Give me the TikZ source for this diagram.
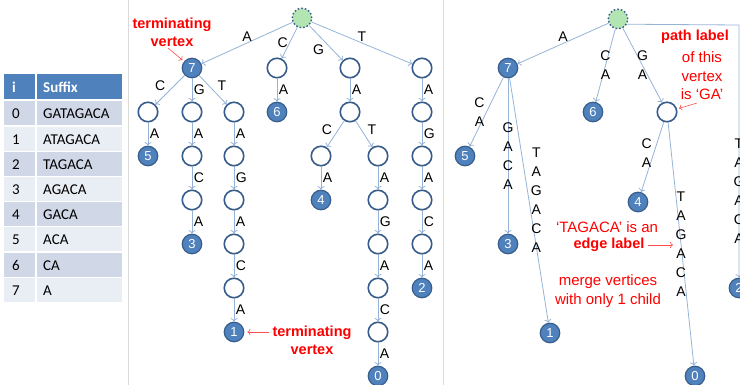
\documentclass[tikz,border=0pt]{standalone}
\usepackage{fontspec}
\setmainfont{Liberation Sans}
\newfontfamily\tablefont{Carlito}
\usetikzlibrary{arrows.meta}
\definecolor{cblue}{HTML}{4F81BD}
\definecolor{cdark}{HTML}{385D8A}
\definecolor{cedge}{HTML}{95B3D7}
\definecolor{cgreen}{HTML}{B3E5B3}
\definecolor{crowa}{HTML}{D0D8E8}
\definecolor{crowb}{HTML}{E9EDF4}
\definecolor{cred}{HTML}{FF0000}
\definecolor{cline}{HTML}{D9D9D9}
\tikzset{
  every picture/.style={x=1pt, y=-1pt},
  vtx/.style={circle, draw=cdark, line width=1.6pt, fill=white, minimum size=19.5pt, inner sep=0pt},
  leaf/.style={vtx, fill=cblue, line width=1.2pt, text=white, font=\fontsize{13}{13}\selectfont},
  rootvtx/.style={vtx, fill=cgreen, dotted, line width=1.4pt},
  edge/.style={draw=cedge, line width=0.8pt, -{To[length=3.5pt, width=7pt]}},
  lab/.style={font=\fontsize{14}{19}\selectfont, inner sep=1.5pt, align=center},
  note/.style={text=cred, font=\fontsize{15}{18.5}\selectfont, align=center},
  notebf/.style={note, font=\fontsize{14.5}{18}\selectfont\bfseries},
  pointer/.style={draw=cred!70, line width=0.6pt, -{To[length=3pt, width=6pt]}},
  cell/.style={anchor=west, font=\tablefont\fontsize{15}{15}\selectfont, inner sep=0pt},
}
\begin{document}
\begin{tikzpicture}
  \useasboundingbox (0,0) rectangle (740,385);
  % suffix table
  \fill[cblue] (4,74) rectangle (35,99);
  \fill[cblue] (37,74) rectangle (122,99);
  \node[cell, text=white, font=\tablefont\fontsize{15}{15}\selectfont\bfseries] (hi) at (12,87) {i};
  \node[cell, text=white, font=\tablefont\fontsize{15}{15}\selectfont\bfseries] (hs) at (43,87) {Suffix};
  \foreach \s/\c [count=\i from 0] in {GATAGACA/crowa, ATAGACA/crowb, TAGACA/crowa, AGACA/crowb,
      GACA/crowa, ACA/crowb, CA/crowa, A/crowb} {
    \pgfmathsetmacro\ytop{100.5+25.2*\i}
    \fill[\c] (4,\ytop+1) rectangle (35,\ytop+25);
    \fill[\c] (37,\ytop+1) rectangle (122,\ytop+25);
    \node[cell] (i\i) at (12,\ytop+13.5) {\i};
    \node[cell] (s\i) at (43,\ytop+13.5) {\s};
  }
  % separators
  \draw[cline, line width=1pt] (128,0) -- (128,385);
  \draw[cline, line width=1pt] (443,0) -- (443,385);
  % left: suffix trie
  \node[rootvtx] (lr) at (302,18) {};
  \node[leaf] (l7) at (192,68) {7};
  \node[vtx] (lc) at (277,68) {};
  \node[leaf] (l6) at (277,112) {6};
  \node[vtx] (lg) at (350,68) {};
  \node[vtx] (lga) at (350,112) {};
  \node[vtx] (lgac) at (321,156) {};
  \node[leaf] (l4) at (321,200) {4};
  \node[vtx] (lgat) at (378,156) {};
  \node[vtx] (lgata) at (378,200) {};
  \node[vtx] (lgatag) at (378,244) {};
  \node[vtx] (lgataga) at (378,288) {};
  \node[vtx] (lgatagac) at (378,332) {};
  \node[leaf] (l0) at (378,376) {0};
  \node[vtx] (lt) at (422,68) {};
  \node[vtx] (lta) at (422,112) {};
  \node[vtx] (ltag) at (422,156) {};
  \node[vtx] (ltaga) at (422,200) {};
  \node[vtx] (ltagac) at (422,244) {};
  \node[leaf] (l2) at (422,288) {2};
  \node[vtx] (lac) at (148,112) {};
  \node[leaf] (l5) at (148,156) {5};
  \node[vtx] (lag) at (192,112) {};
  \node[vtx] (laga) at (192,156) {};
  \node[vtx] (lagac) at (192,200) {};
  \node[leaf] (l3) at (192,244) {3};
  \node[vtx] (lat) at (234,112) {};
  \node[vtx] (lata) at (234,156) {};
  \node[vtx] (latag) at (234,200) {};
  \node[vtx] (lataga) at (234,244) {};
  \node[vtx] (latagac) at (234,288) {};
  \node[leaf] (l1) at (234,332) {1};
  \draw[edge] (lr) -- node[lab, above] {A} (l7);
  \draw[edge] (lr) -- node[lab, left] {C} (lc);
  \draw[edge] (lr) -- node[lab, below left] {G} (lg);
  \draw[edge] (lr) -- node[lab, above] {T} (lt);
  \draw[edge] (l7) -- node[lab, above left, pos=.6] {C} (lac);
  \draw[edge] (l7) -- node[lab, right] {G} (lag);
  \draw[edge] (l7) -- node[lab, above right, pos=.6] {T} (lat);
  \draw[edge] (lga) -- node[lab, above left, pos=.6] {C} (lgac);
  \draw[edge] (lga) -- node[lab, above right, pos=.6] {T} (lgat);
  \foreach \a/\b/\l in {lc/l6/A, lg/lga/A, lgac/l4/A, lgat/lgata/A, lgata/lgatag/G, lgatag/lgataga/A,
      lgataga/lgatagac/C, lgatagac/l0/A, lt/lta/A, lta/ltag/G, ltag/ltaga/A, ltaga/ltagac/C,
      ltagac/l2/A, lac/l5/A, lag/laga/A, laga/lagac/C, lagac/l3/A, lat/lata/A, lata/latag/G,
      latag/lataga/A, lataga/latagac/C, latagac/l1/A}
    \draw[edge] (\a) -- node[lab, right] {\l} (\b);
  % notes on the trie
  \node[notebf] (ntop) at (172,32) {terminating\\vertex};
  \coordinate (ntopp) at (168,48);
  \draw[pointer, shorten >=2pt] (ntopp) -- (l7);
  \node[notebf] (nbot) at (312,340) {terminating\\vertex};
  \draw[pointer, shorten >=3pt] (nbot.west |- l1) -- (l1);
  % right: suffix tree
  \node[rootvtx] (rr) at (618,19) {};
  \node[leaf] (r7) at (508,68) {7};
  \node[leaf] (r5) at (465,156) {5};
  \node[leaf] (r3) at (508,244) {3};
  \node[leaf] (r1) at (550,333) {1};
  \node[leaf] (r6) at (593,112) {6};
  \node[vtx] (rga) at (667,112) {};
  \node[leaf] (r4) at (638,202) {4};
  \node[leaf] (r0) at (695,376) {0};
  \node[leaf] (r2) at (739,288) {2};
  \coordinate (rcorner) at (739,25);
  \draw[edge] (rr) -- node[lab, above] {A} (r7);
  \draw[edge] (r7) -- node[lab, left] {C\\A} (r5);
  \draw[edge] (r7) -- node[lab] {G\\A\\C\\A} (r3);
  \draw[edge] (r7) -- node[lab, right] {T\\A\\G\\A\\C\\A} (r1);
  \draw[edge] (rr) -- node[lab] {C\\A} (r6);
  \draw[edge] (rr) -- node[lab] {G\\A} (rga);
  \draw[edge] (rga) -- node[lab, left, pos=.45] {C\\A} (r4);
  \draw[edge] (rga) -- node[lab] {T\\A\\G\\A\\C\\A} (r0);
  \draw[edge] (rr.330) -- (rcorner) -- node[lab, pos=.656] {T\\A\\G\\A\\C\\A} (r2);
  % notes on the tree
  \node[notebf] (npath) at (695,37) {path label};
  \node[note] (nthis) at (702,76) {of this\\vertex\\is ‘GA’};
  \coordinate (nthisp) at (697,103);
  \draw[pointer, shorten >=2pt] (nthisp) -- (rga);
  \node[note] (nedge) at (607,227) {‘TAGACA’ is an};
  \node[notebf] (nedgebf) at (609,245) {edge label};
  \coordinate (nedgep) at (673,245);
  \draw[pointer] (nedgebf.east) -- (nedgep);
  \node[note] (nmerge) at (608,291) {merge vertices\\with only 1 child};
\end{tikzpicture}
\end{document}
